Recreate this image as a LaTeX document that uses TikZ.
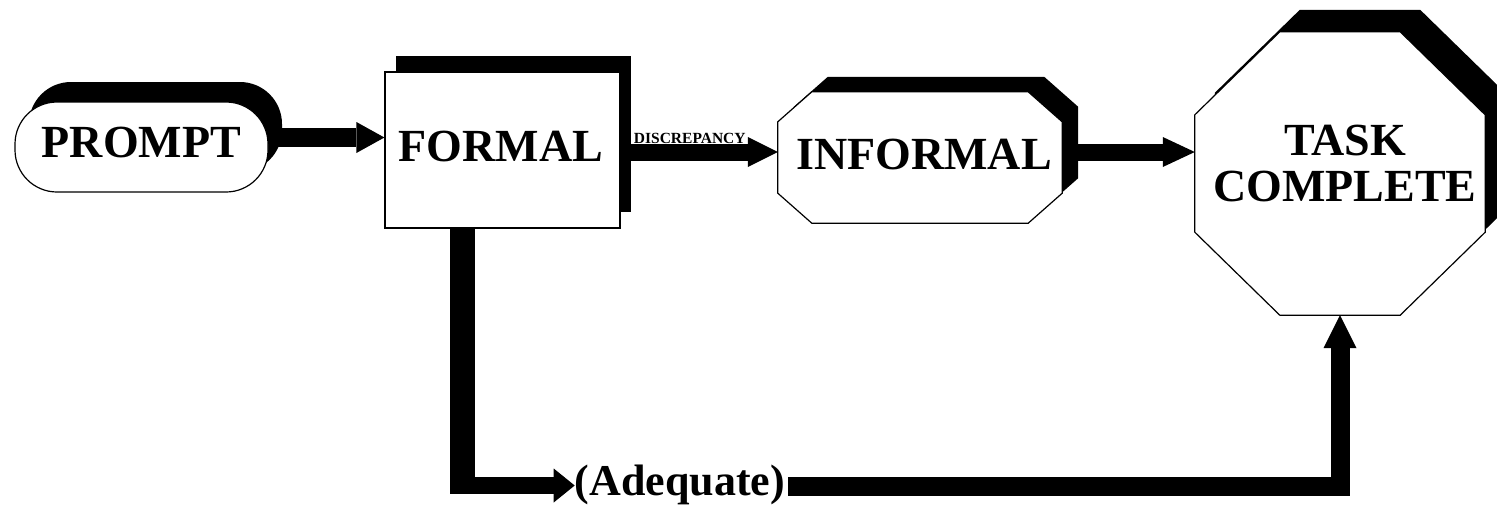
\documentclass[tikz,border=0pt]{standalone}
\usepackage{fontspec}
\setmainfont{Liberation Serif}
\usetikzlibrary{arrows.meta,shadows}
\pgfdeclarelayer{background}
\pgfsetlayers{background,main}
\begin{document}
\begin{tikzpicture}[x=1pt,y=-1pt,
  box/.style={draw=black, line width=1.2pt, fill=white, inner sep=0pt,
    font=\fontsize{46}{46}\selectfont\bfseries},
  ghost/.style={inner sep=0pt, font=\fontsize{46}{46}\selectfont\bfseries},
  blk/.style={opacity=1, fill=black, draw=none},
  fat/.style={draw=black, line width=#1, line cap=butt},
  lbl/.style={inner sep=0pt, align=center},
  octo/.style n args={4}{insert path={
    ([#4,xshift=#2]#1.north west) -- ([#4,xshift=-#2]#1.north east) --
    ([#4,yshift=-#3]#1.north east) -- ([#4,yshift=#3]#1.south east) --
    ([#4,xshift=-#2]#1.south east) -- ([#4,xshift=#2]#1.south west) --
    ([#4,yshift=#3]#1.south west) -- ([#4,yshift=-#3]#1.north west) -- cycle}}
]
\begin{pgfonlayer}{background}
  \fill[white] (0,0) rectangle (1497,512);
\end{pgfonlayer}
\useasboundingbox (0,0) rectangle (1497,512);

% nodes
\node[box, rectangle, rounded corners=42pt, minimum width=253pt, minimum height=90pt,
  drop shadow={blk, shadow xshift=14pt, shadow yshift=20pt}] (prompt) at (141.5,147) {};
\node[ghost] (promptlbl) at (141.5,142.5) {PROMPT};
\node[box, rectangle, minimum width=235pt, minimum height=156pt,
  drop shadow={blk, shadow xshift=11pt, shadow yshift=16pt}] (formal) at (502.5,150) {};
\node[ghost] (formallbl) at (501,146) {FORMAL};
\node[ghost, minimum width=284pt, minimum height=131pt] (informal) at (920,157.5) {};
\node[ghost] (informallbl) at (924,154) {INFORMAL};
\node[ghost, minimum width=290pt, minimum height=283pt] (task) at (1340,173.5) {};
\node[lbl, font=\fontsize{46}{46}\selectfont\bfseries] (tasklbl) at (1345,163) {TASK\\COMPLETE};
\node[lbl, font=\fontsize{44}{44}\selectfont\bfseries] (adeq) at (680,485) {(Adequate)};

\begin{pgfonlayer}{background}
  \path[fill=black, octo={informal}{34pt}{30pt}{xshift=16pt,yshift=15pt}];
  \path[fill=white, draw=black, line width=1.2pt, octo={informal}{34pt}{30pt}{xshift=0pt}];
  \path[fill=black, octo={task}{85pt}{83pt}{xshift=20pt,yshift=22pt}];
  \path[fill=white, draw=black, line width=1.2pt, octo={task}{85pt}{83pt}{xshift=0pt}];
\end{pgfonlayer}

% guide coordinates
\coordinate (r1) at (0,137.5);
\coordinate (r2) at (0,152);
\coordinate (r3) at (0,486);
\coordinate (fx) at (462.5,0);
\coordinate (fcorner) at (462.5,494);
\coordinate (hstart) at (450,485.5);

% connectors
\draw[fat=19pt, -{Triangle[length=28pt,width=31pt,line width=0pt]}]
  (prompt.east |- r1) -- (formal.west |- r1);
\draw[fat=17pt, -{Triangle[length=30pt,width=30pt,line width=0pt]}]
  (formal.east |- r2) -- (informal.west |- r2)
  node[pos=0.44, anchor=base, yshift=9pt, inner sep=0pt,
       font=\fontsize{15.5}{15.5}\selectfont\bfseries] (disc) {DISCREPANCY};
\draw[fat=17pt, -{Triangle[length=32pt,width=30pt,line width=0pt]}]
  (informal.east |- r2) -- (task.west |- r2);
\draw[fat=25pt] (formal.south -| fx) -- (fcorner);
\draw[fat=17pt, -{Triangle[length=21pt,width=34pt,line width=0pt]}]
  (hstart) -- (adeq.west |- hstart);
\draw[fat=19pt, -{Triangle[length=33pt,width=33pt,line width=0pt]}]
  ([xshift=3pt]adeq.east |- r3) -| (task.south);
\end{tikzpicture}
\end{document}
